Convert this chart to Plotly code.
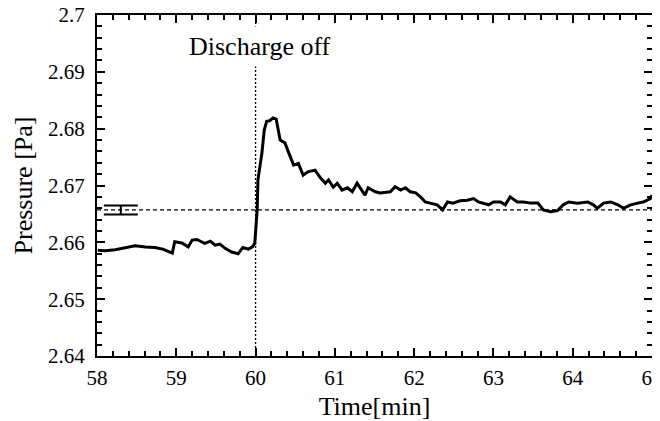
import plotly.graph_objects as go

# time [min] and pressure [Pa]
time_min = [58.01, 58.10, 58.23, 58.35, 58.48, 58.61, 58.73, 58.83, 58.95, 58.98,
            59.07, 59.15, 59.20, 59.26, 59.36, 59.43, 59.49, 59.55, 59.62, 59.70,
            59.78, 59.84, 59.91, 59.96, 59.99, 60.02, 60.03, 60.08, 60.11, 60.14,
            60.18, 60.22, 60.26, 60.31, 60.37, 60.42, 60.48, 60.54, 60.60, 60.66,
            60.75, 60.82, 60.88, 60.92, 60.98, 61.03, 61.09, 61.16, 61.22, 61.28,
            61.32, 61.38, 61.42, 61.51, 61.57, 61.70, 61.76, 61.83, 61.89, 61.95,
            62.02, 62.08, 62.14, 62.20, 62.29, 62.36, 62.42, 62.49, 62.58, 62.67,
            62.75, 62.81, 62.87, 62.94, 63.00, 63.09, 63.15, 63.21, 63.30, 63.38,
            63.47, 63.56, 63.63, 63.72, 63.81, 63.88, 63.95, 64.06, 64.19, 64.26,
            64.31, 64.39, 64.48, 64.57, 64.64, 64.73, 64.82, 64.89, 64.98, 65.00]
pressure = [2.6586, 2.6585, 2.6587, 2.6591, 2.6594, 2.6592, 2.6591, 2.6588, 2.6581, 2.6601,
            2.6599, 2.6592, 2.6604, 2.6605, 2.6598, 2.6602, 2.6595, 2.6597, 2.6589, 2.6583,
            2.6580, 2.6591, 2.6588, 2.6592, 2.6598, 2.6657, 2.6710, 2.6757, 2.6798, 2.6813,
            2.6814, 2.6819, 2.6817, 2.6780, 2.6775, 2.6757, 2.6736, 2.6739, 2.6718, 2.6724,
            2.6727, 2.6713, 2.6704, 2.6710, 2.6697, 2.6704, 2.6692, 2.6696, 2.6689, 2.6704,
            2.6696, 2.6683, 2.6696, 2.6689, 2.6687, 2.6689, 2.6698, 2.6692, 2.6696, 2.6689,
            2.6687, 2.6680, 2.6671, 2.6669, 2.6666, 2.6657, 2.6671, 2.6669, 2.6673, 2.6674,
            2.6677, 2.6671, 2.6669, 2.6666, 2.6671, 2.6671, 2.6666, 2.6680, 2.6671, 2.6671,
            2.6669, 2.6669, 2.6657, 2.6654, 2.6656, 2.6666, 2.6671, 2.6669, 2.6671, 2.6666,
            2.6660, 2.6669, 2.6671, 2.6666, 2.6660, 2.6666, 2.6669, 2.6671, 2.6677, 2.6683]

# reference level with its error bar
ref_time = [58.3]
ref_pressure = [2.6657]
ref_err = [0.0008]
discharge_off = 60.0

x_ticks = [58, 59, 60, 61, 62, 63, 64, 65]
x_labels = ["58", "59", "60", "61", "62", "63", "64", "65"]
y_ticks = [2.64, 2.65, 2.66, 2.67, 2.68, 2.69, 2.70]
y_labels = ["2.64", "2.65", "2.66", "2.67", "2.68", "2.69", "2.7"]

font = "Liberation Serif, Times New Roman, serif"

fig = go.Figure()
fig.add_trace(go.Scatter(x=time_min, y=pressure, mode="lines",
                         line=dict(color="black", width=3), showlegend=False))
fig.add_trace(go.Scatter(x=ref_time, y=ref_pressure, mode="markers",
                         marker=dict(size=1, color="black"),
                         error_y=dict(type="data", array=ref_err, color="black",
                                      thickness=2, width=17),
                         showlegend=False))

# horizontal dashed reference level
fig.add_hline(y=ref_pressure[0], line=dict(color="black", width=1.3, dash="4px,3px"))
# vertical dotted line at discharge off
fig.add_vline(x=discharge_off, line=dict(color="black", width=1.3, dash="2px,2px"))

fig.add_annotation(x=60.06, y=2.6944, text="Discharge off", showarrow=False,
                   font=dict(family=font, size=26, color="black"),
                   bgcolor="white", borderpad=5)

axis_common = dict(showline=True, linecolor="black", linewidth=2, mirror="allticks",
                   ticks="inside", ticklen=8, tickwidth=2, tickcolor="black",
                   showgrid=False, zeroline=False, automargin=False,
                   ticklabeloverflow="allow",
                   tickfont=dict(family=font, size=21, color="black"))

fig.update_xaxes(range=[58, 65], tickvals=x_ticks, ticktext=x_labels,
                 ticklabelstandoff=2,
                 minor=dict(ticks="inside", ticklen=5, tickwidth=1.5, tickcolor="black",
                            dtick=0.2, showgrid=False),
                 title=dict(text="Time[min]", font=dict(family=font, size=26, color="black"),
                            standoff=8),
                 **axis_common)
fig.update_yaxes(range=[2.64, 2.70], tickvals=y_ticks, ticktext=y_labels,
                 ticklabelstandoff=6,
                 minor=dict(ticks="inside", ticklen=5, tickwidth=1.5, tickcolor="black",
                            dtick=0.002, tick0=2.64, showgrid=False),
                 title=dict(text="Pressure [Pa]", font=dict(family=font, size=26, color="black"),
                            standoff=8),
                 **axis_common)

# page body adds an 8px offset, so the figure is drawn 8px smaller
fig.update_layout(width=652, height=413,
                  margin=dict(l=89, r=8, t=7, b=65),
                  plot_bgcolor="white", paper_bgcolor="white")

fig.write_html("out.html")
